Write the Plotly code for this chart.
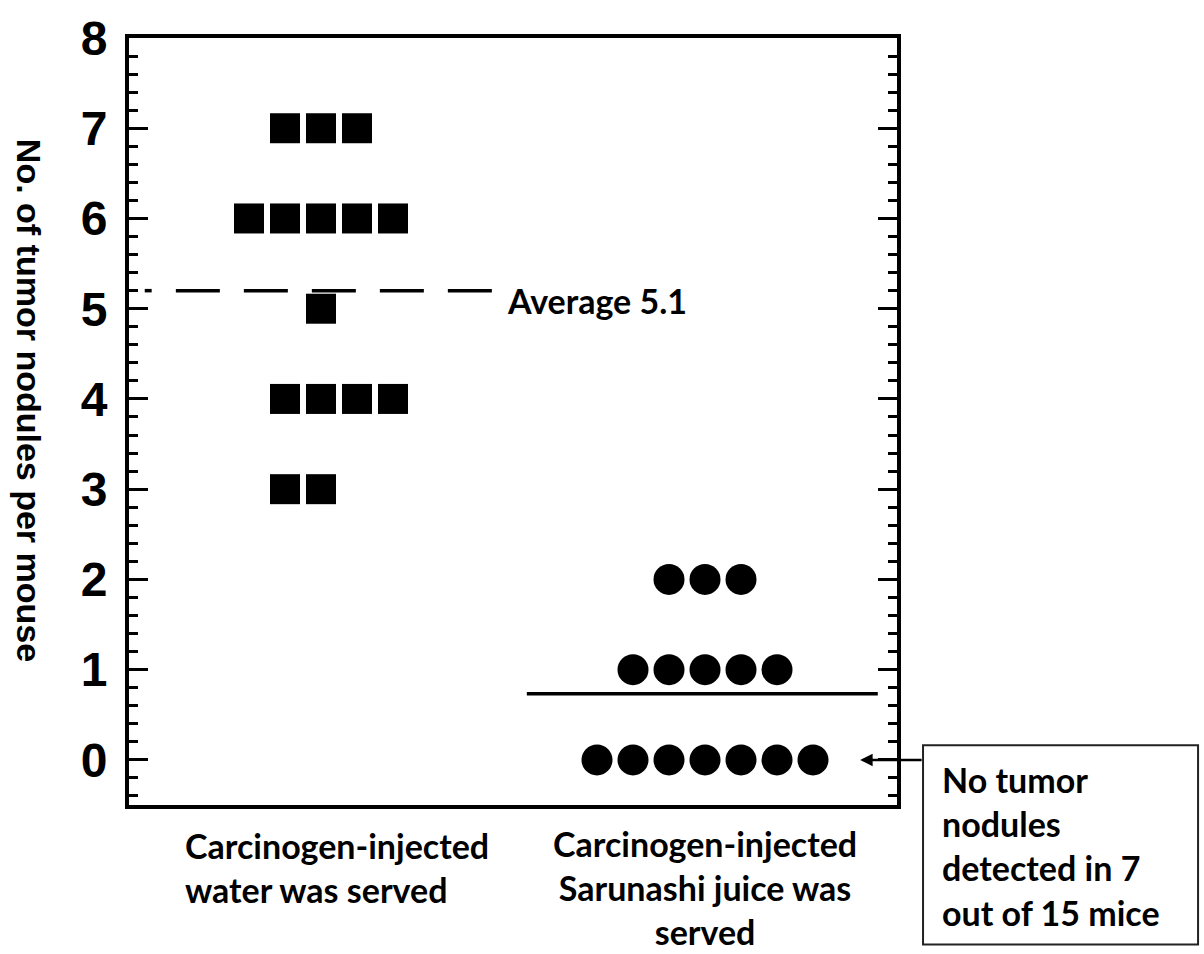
import plotly.graph_objects as go

# ---- data ----
categories = ["Carcinogen-injected<br>water was served",
              "Carcinogen-injected<br>Sarunashi juice was<br>served"]
group_pos = [1, 2]

water_values = [7, 7, 7, 6, 6, 6, 6, 6, 5, 4, 4, 4, 4, 3, 3]
water_cols = [-1, 0, 1, -2, -1, 0, 1, 2, 0, -1, 0, 1, 2, -1, 0]

juice_values = [2, 2, 2, 1, 1, 1, 1, 1, 0, 0, 0, 0, 0, 0, 0]
juice_cols = [-1, 0, 1, -2, -1, 0, 1, 2, -3, -2, -1, 0, 1, 2, 3]

y_ticks = [0, 1, 2, 3, 4, 5, 6, 7, 8]
y_title = "No. of tumor nodules per mouse"
avg_labels = ["Average 5.1", "Average: 0.7"]
note_text = "No tumor<br>nodules<br>detected in 7<br>out of 15 mice"

spacing = 0.09375
water_mean = sum(water_values) / len(water_values)
juice_mean = sum(juice_values) / len(juice_values)

SANS = "Liberation Sans, Arial, sans-serif"
CAL = "Lato, Open Sans, sans-serif"

fig = go.Figure()
fig.add_trace(go.Scatter(
    x=[group_pos[0] + c * spacing for c in water_cols], y=water_values,
    mode="markers", marker=dict(symbol="square", size=30, color="black", line=dict(width=0)),
    showlegend=False, cliponaxis=False))
fig.add_trace(go.Scatter(
    x=[group_pos[1] + c * spacing for c in juice_cols], y=juice_values,
    mode="markers", marker=dict(symbol="circle", size=31, color="black", line=dict(width=0)),
    showlegend=False, cliponaxis=False))

# average lines
fig.add_shape(type="line", xref="x", yref="y", x0=0.622, x1=1.448, y0=water_mean, y1=water_mean,
              line=dict(color="black", width=3.5, dash="44px,24px"))
fig.add_shape(type="line", xref="x", yref="y", x0=0.541, x1=0.559, y0=water_mean, y1=water_mean,
              line=dict(color="black", width=3.5))
fig.add_shape(type="line", xref="x", yref="y", x0=1.536, x1=2.45, y0=juice_mean, y1=juice_mean,
              line=dict(color="black", width=3.5))

fig.add_annotation(x=1.479, y=water_mean, xref="x", yref="y", text=avg_labels[0], showarrow=False,
                   xanchor="left", yanchor="middle", yshift=-10,
                   font=dict(family=CAL, size=34, color="black", weight="bold"))
fig.add_annotation(x=2.526, y=juice_mean, xref="x", yref="y", text=avg_labels[1], showarrow=False,
                   xanchor="left", yanchor="middle", yshift=-12,
                   font=dict(family=CAL, size=34, color="black", weight="bold"))

# category labels
fig.add_annotation(x=0.641, y=-0.082, xref="x", yref="paper", text=categories[0], showarrow=False,
                   xanchor="left", yanchor="middle", align="left",
                   font=dict(family=CAL, size=34, color="black", weight="bold"))
fig.add_annotation(x=group_pos[1], y=-0.107, xref="x", yref="paper", text=categories[1], showarrow=False,
                   xanchor="center", yanchor="middle", align="center",
                   font=dict(family=CAL, size=34, color="black", weight="bold"))

# y title
fig.add_annotation(x=-0.130, y=0.528, xref="paper", yref="paper", text=y_title, showarrow=False,
                   textangle=90, xanchor="center", yanchor="middle",
                   font=dict(family=SANS, size=34, color="black", weight="bold"))

# note box
fig.add_shape(type="rect", xref="paper", yref="paper", x0=1.0339, x1=1.392, y0=-0.182, y1=0.078,
              line=dict(color="#222222", width=2), fillcolor="white")
fig.add_annotation(x=1.056, y=-0.054, xref="paper", yref="paper", text=note_text, showarrow=False,
                   xanchor="left", yanchor="middle", align="left",
                   font=dict(family=CAL, size=34, color="black", weight="bold"))
# arrow
fig.add_annotation(x=2.404, y=0, ax=2.568, ay=0, xref="x", yref="y", axref="x", ayref="y",
                   text="", showarrow=True, arrowhead=2, arrowsize=1, arrowwidth=2.5,
                   arrowcolor="black", standoff=0, startstandoff=0)

fig.update_xaxes(range=[0.5, 2.5], showline=True, linewidth=4, linecolor="black", mirror=True,
                 showticklabels=False, ticks="", showgrid=False, zeroline=False)
fig.update_yaxes(range=[-0.5, 8], tickvals=y_ticks, showline=True, linewidth=4, linecolor="black",
                 mirror="ticks", ticks="inside", ticklen=19, tickwidth=3, tickcolor="black",
                 minor=dict(dtick=0.2, ticks="inside", ticklen=9, tickwidth=3, tickcolor="black", showgrid=False),
                 showgrid=False, zeroline=False, ticklabelstandoff=8,
                 tickfont=dict(family=SANS, size=48, color="black", weight="bold"))

fig.update_layout(width=1204, height=954, margin=dict(l=129, r=307, t=36, b=149),
                  plot_bgcolor="white", paper_bgcolor="white", showlegend=False)

fig.write_html("out.html", config={"displayModeBar": False},
               post_script="document.body.style.margin='0';")
